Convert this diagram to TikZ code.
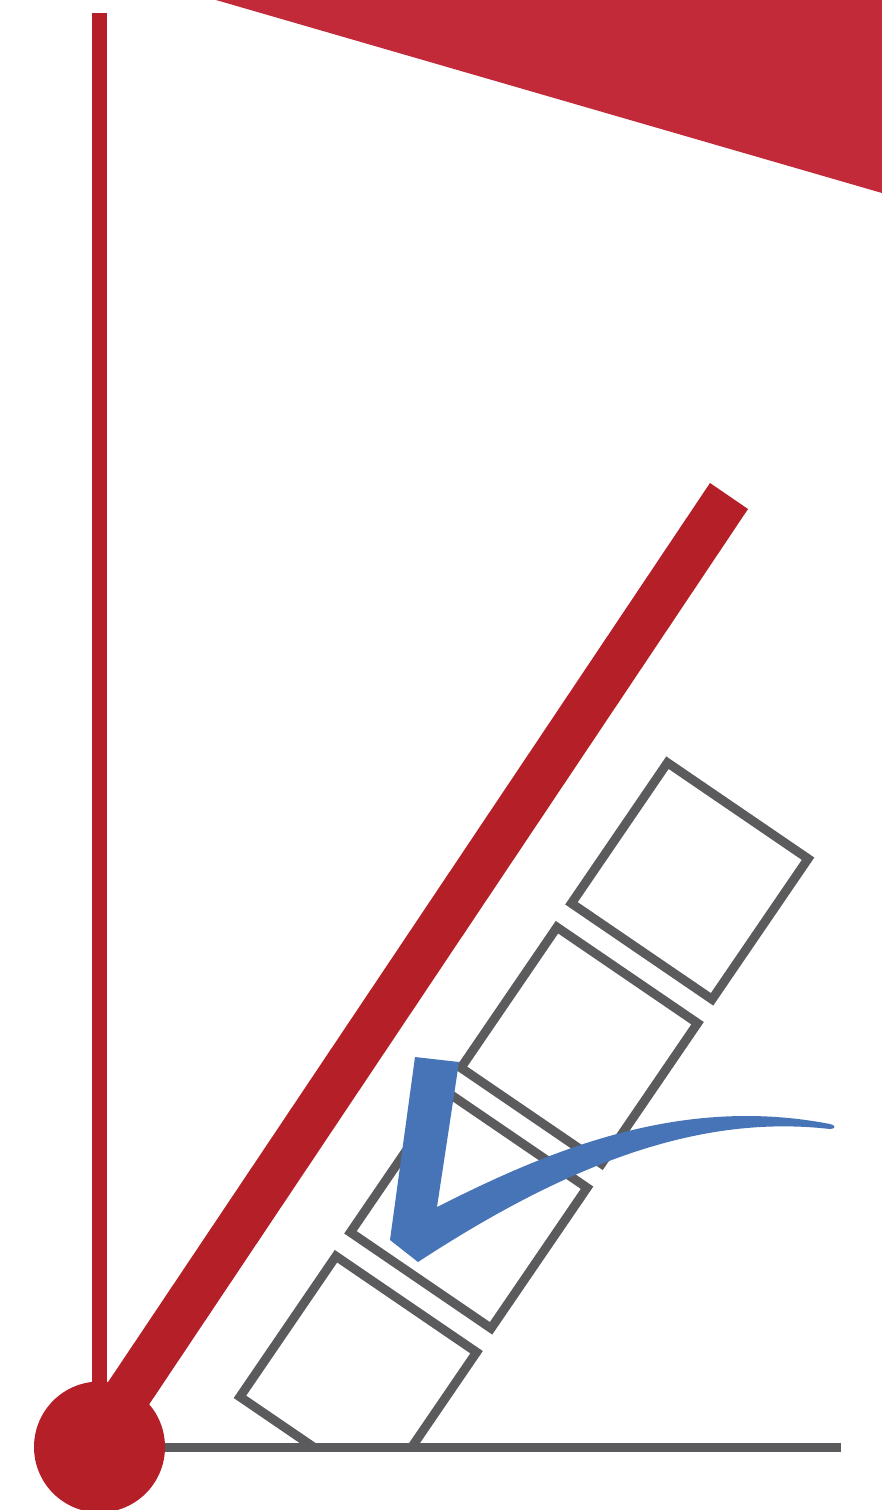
\documentclass[tikz,border=0pt]{standalone}
\definecolor{barred}{HTML}{B51F27}
\definecolor{trired}{HTML}{C22A3A}
\definecolor{checkblue}{HTML}{4674B6}
\definecolor{boxgray}{HTML}{5B5B5D}
\begin{document}
\begin{tikzpicture}[x=1pt,y=-1pt,
  boxline/.style={draw=boxgray, line width=9pt, line join=miter},
  redshape/.style={fill=barred},
  baseline/.style={draw=boxgray, line width=9pt}]
\useasboundingbox (0,0) rectangle (882,1510);
\clip (0,0) rectangle (882,1510);
\fill[white] (0,0) rectangle (882,1510);
% top triangle
\fill[trired] (216,0) -- (882,0) -- (882,193) -- cycle;
% vertical bar
\fill[redshape] (92,13) rectangle (107,1420);
% diagonal bar
\fill[redshape] (710,483) -- (748,509) -- (132,1430) -- (78,1427) -- cycle;
% boxes
\begin{scope}
  \clip (0,0) rectangle (882,1447);
  \foreach \cx/\cy in {689.75/881, 579.25/1045.5, 468.75/1210, 358.25/1374.5}{
    \draw[boxline, shift={(\cx,\cy)}] (-22.3,-118.3) -- (118.3,-22.3) -- (22.3,118.3) -- (-118.3,22.3) -- cycle;
  }
\end{scope}
% base line
\coordinate (baseL) at (150,1447.5);
\coordinate (baseR) at (841,1447.5);
\draw[baseline] (baseL) -- (baseR);
% circle
\fill[redshape] (99.5,1447) circle[radius=65.5];
% check mark
\fill[checkblue] (415,1057) -- (459,1062) -- (437,1207)
  .. controls (550,1150) and (680,1095) .. (830,1124)
  .. controls (836,1125) and (836,1129) .. (830,1129)
  .. controls (708,1115) and (580,1156) .. (418,1262)
  -- (390,1240) -- cycle;
\end{tikzpicture}
\end{document}
